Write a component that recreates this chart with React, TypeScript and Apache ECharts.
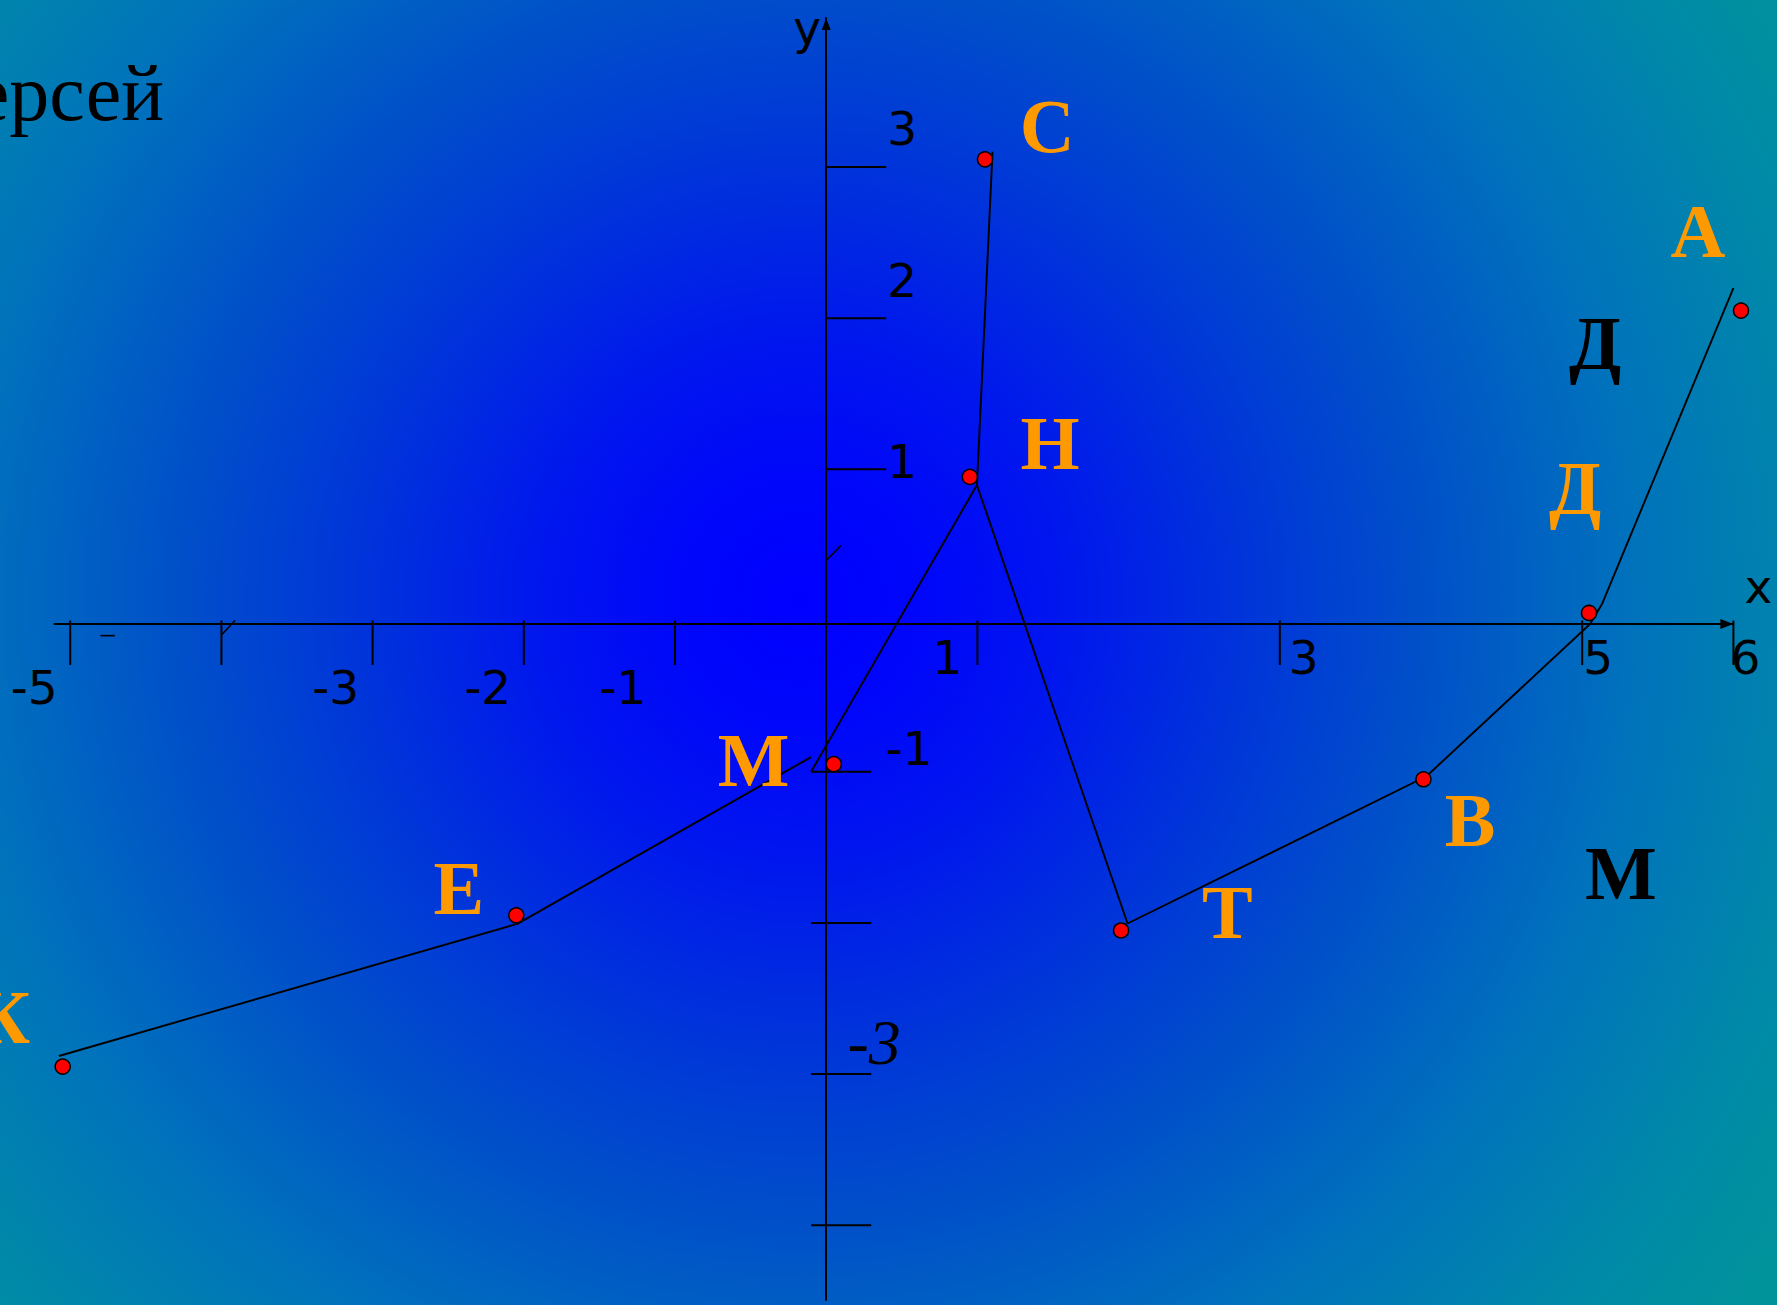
import React, { useEffect, useRef } from "react";
import * as echarts from "echarts";

// ---- data: star points (red dots) ----
const pointNames = ["К", "Е", "М", "Н", "С", "Т", "В", "Д", "А"];
const pointX = [-5.05, -2.05, 0.05, 0.95, 1.05, 1.95, 3.95, 5.045, 6.05];
const pointY = [-2.95, -1.95, -0.95, 0.95, 3.05, -2.05, -1.05, 0.05, 2.05];

// ---- data: connecting strokes of the figure ----
const strokeLeftX = [-5.075, -2.04, -0.1];
const strokeLeftY = [-2.88, -2.005, -0.903];
const strokeCenterX = [-0.1, 0.997, 1.1];
const strokeCenterY = [-1.0, 0.896, 3.1];
const strokeRightX = [0.997, 1.993, 3.97, 5.052, 5.131, 6.0];
const strokeRightY = [0.896, -2.004, -1.03, -0.023, 0.109, 2.199];

// ---- data: letters ----
const letterTexts = ["С", "Н", "А", "Д", "М", "Е", "К", "Т", "В", "Д", "М"];
const letterIsBlack = [false, false, false, false, false, false, false, false, false, true, true];
const letterX = [1.462, 1.48, 5.766, 4.953, -0.48, -2.429, -5.447, 2.653, 4.258, 5.085, 5.255];
const letterY = [3.274, 1.177, 2.576, 0.878, -0.925, -1.767, -2.622, -1.928, -1.322, 1.835, -1.669];

// ---- axis ticks and tick labels ----
const xTickValues = [-5, -4, -3, -2, -1, 1, 3, 5, 6];
const yTickUpValues = [1, 2, 3];
const yTickDownValues = [-1, -2, -3, -4];
const xLabelValues = [-5, -3, -2, -1, 1, 3, 5, 6];
const xLabelTexts = ["-5", "-3", "-2", "-1", "1", "3", "5", "6"];
const yLabelValues = [3, 2, 1, -1, -3];
const yLabelTexts = ["3", "2", "1", "-1", "-3"];

// stray pen strokes on the slide (data coords)
const strayStrokes = [
  [[0.003, 0.4], [0.098, 0.496]],
  [[-4.0, -0.096], [-3.91, 0.0]],
  [[-4.8, -0.1], [-4.705, -0.1]],
];

const titleText = "ерсей";

// ---- layout (pixels) ----
const xLabelOffsets = [
  [-36, 67], [-37, 67], [-36, 67], [-52, 67],
  [-30, 37], [24, 37], [16, 37], [12, 37],
];
const yLabelOffsets = [[76, -38], [76, -38], [76, -8], [83, -23], [48, -32]];

const ORANGE = "#FF9900";
const SANS = '"DejaVu Sans", Verdana, sans-serif';
const SERIF = '"Liberation Serif", "Times New Roman", serif';

export default function App() {
  const ref = useRef<HTMLDivElement>(null);

  useEffect(() => {
    if (!ref.current) return;
    const chart = echarts.init(ref.current, null, { renderer: "svg" });

    const toPairs = (xs: number[], ys: number[]) => xs.map((x, i) => [x, ys[i]]);

    const option: any = {
      animation: false,
      graphic: {
        elements: [
          {
            type: "rect",
            z: -100,
            silent: true,
            shape: { x: 0, y: 0, width: 1777, height: 1305 },
            style: {
              fill: {
                type: "radial",
                x: 800,
                y: 600,
                r: 1190,
                global: true,
                colorStops: [
                  { offset: 0, color: "#0000FF" },
                  { offset: 0.1, color: "#0006FA" },
                  { offset: 0.22, color: "#0016EE" },
                  { offset: 0.37, color: "#0034DA" },
                  { offset: 0.52, color: "#004FC9" },
                  { offset: 0.7, color: "#0072BC" },
                  { offset: 0.87, color: "#0089A8" },
                  { offset: 1, color: "#00949A" },
                ],
              },
            },
          },
          {
            type: "text",
            z: 50,
            silent: true,
            x: 164,
            y: 93,
            style: {
              text: titleText,
              fill: "#000",
              font: `80px ${SERIF}`,
              align: "right",
              verticalAlign: "middle",
            },
          },
        ],
      },
      grid: { left: 54.5, top: 18, width: 1678.9, height: 1282, containLabel: false },
      xAxis: {
        type: "value",
        min: -5.104,
        max: 6.0,
        position: "top",
        onZero: false,
        offset: -606,
        axisLine: {
          show: true,
          onZero: false,
          symbol: ["none", "triangle"],
          symbolSize: [10, 13],
          symbolOffset: [0, -6.5],
          lineStyle: { color: "#000", width: 2 },
        },
        axisTick: { show: false },
        axisLabel: { show: false },
        splitLine: { show: false },
      },
      yAxis: {
        type: "value",
        min: -4.494,
        max: 3.985,
        axisLine: {
          show: true,
          onZero: true,
          symbol: ["none", "triangle"],
          symbolSize: [9, 12],
          symbolOffset: [0, -6],
          lineStyle: { color: "#000", width: 2 },
        },
        axisTick: { show: false },
        axisLabel: { show: false },
        splitLine: { show: false },
      },
      series: [
        {
          type: "custom",
          name: "ticks",
          clip: false,
          silent: true,
          z: 3,
          data: [[0, 0]],
          renderItem: (_params: any, api: any) => {
            const children: any[] = [];
            const stroke = { stroke: "#000", lineWidth: 2 };
            xTickValues.forEach((v) => {
              const p = api.coord([v, 0]);
              children.push({ type: "line", shape: { x1: p[0], y1: p[1], x2: p[0], y2: p[1] + 44.5 }, style: stroke });
            });
            yTickUpValues.forEach((v) => {
              const p = api.coord([0, v]);
              children.push({ type: "line", shape: { x1: p[0], y1: p[1], x2: p[0] + 60, y2: p[1] }, style: stroke });
            });
            yTickDownValues.forEach((v) => {
              const p = api.coord([0, v]);
              children.push({ type: "line", shape: { x1: p[0] - 15, y1: p[1], x2: p[0] + 45, y2: p[1] }, style: stroke });
            });
            strayStrokes.forEach((s) => {
              const a = api.coord(s[0]);
              const b = api.coord(s[1]);
              children.push({ type: "line", shape: { x1: a[0], y1: a[1], x2: b[0], y2: b[1] }, style: { stroke: "#000", lineWidth: 1.6 } });
            });
            xLabelValues.forEach((v, i) => {
              const p = api.coord([v, 0]);
              children.push({
                type: "text",
                x: p[0] + xLabelOffsets[i][0],
                y: p[1] + xLabelOffsets[i][1],
                style: { text: xLabelTexts[i], fill: "#000", font: `47px ${SANS}`, align: "center", verticalAlign: "middle" },
              });
            });
            yLabelValues.forEach((v, i) => {
              const p = api.coord([0, v]);
              const italic = yLabelTexts[i] === "-3";
              children.push({
                type: "text",
                x: p[0] + yLabelOffsets[i][0],
                y: p[1] + yLabelOffsets[i][1],
                style: {
                  text: yLabelTexts[i],
                  fill: "#000",
                  font: italic ? `italic 64px ${SERIF}` : `47px ${SANS}`,
                  align: "center",
                  verticalAlign: "middle",
                },
              });
            });
            // axis names
            const yTop = api.coord([0, 3.985]);
            children.push({
              type: "text",
              x: yTop[0] - 19,
              y: yTop[1] + 9,
              style: { text: "y", fill: "#000", font: `47px ${SANS}`, align: "center", verticalAlign: "middle" },
            });
            const xEnd = api.coord([6.0, 0]);
            children.push({
              type: "text",
              x: xEnd[0] + 25,
              y: xEnd[1] - 34,
              style: { text: "x", fill: "#000", font: `47px ${SANS}`, align: "center", verticalAlign: "middle" },
            });
            return { type: "group", children };
          },
        },
        {
          type: "line",
          name: "stroke-left",
          data: toPairs(strokeLeftX, strokeLeftY),
          symbol: "none",
          clip: false,
          z: 4,
          lineStyle: { color: "#000", width: 1.9 },
        },
        {
          type: "line",
          name: "stroke-center",
          data: toPairs(strokeCenterX, strokeCenterY),
          symbol: "none",
          clip: false,
          z: 4,
          lineStyle: { color: "#000", width: 1.9 },
        },
        {
          type: "line",
          name: "stroke-right",
          data: toPairs(strokeRightX, strokeRightY),
          symbol: "none",
          clip: false,
          z: 4,
          lineStyle: { color: "#000", width: 1.9 },
        },
        {
          type: "scatter",
          name: "stars",
          clip: false,
          z: 6,
          symbol: "circle",
          symbolSize: 15,
          itemStyle: { color: "#FF0000", borderColor: "#000", borderWidth: 1.5, opacity: 1 },
          data: pointX.map((x, i) => ({ name: pointNames[i], value: [x, pointY[i]] })),
        },
        {
          type: "custom",
          name: "letters",
          clip: false,
          silent: true,
          z: 7,
          data: letterX.map((x, i) => [x, letterY[i], i]),
          renderItem: (_params: any, api: any) => {
            const i = api.value(2);
            const p = api.coord([api.value(0), api.value(1)]);
            return {
              type: "text",
              x: p[0],
              y: p[1],
              style: {
                text: letterTexts[i],
                fill: letterIsBlack[i] ? "#000" : ORANGE,
                font: `bold 76px ${SERIF}`,
                align: "center",
                verticalAlign: "middle",
              },
            };
          },
        },
      ],
    };

    chart.setOption(option);
    return () => chart.dispose();
  }, []);

  return (
    <div
      ref={ref}
      style={{ position: "absolute", left: 0, top: 0, width: "1777px", height: "1305px" }}
    />
  );
}
